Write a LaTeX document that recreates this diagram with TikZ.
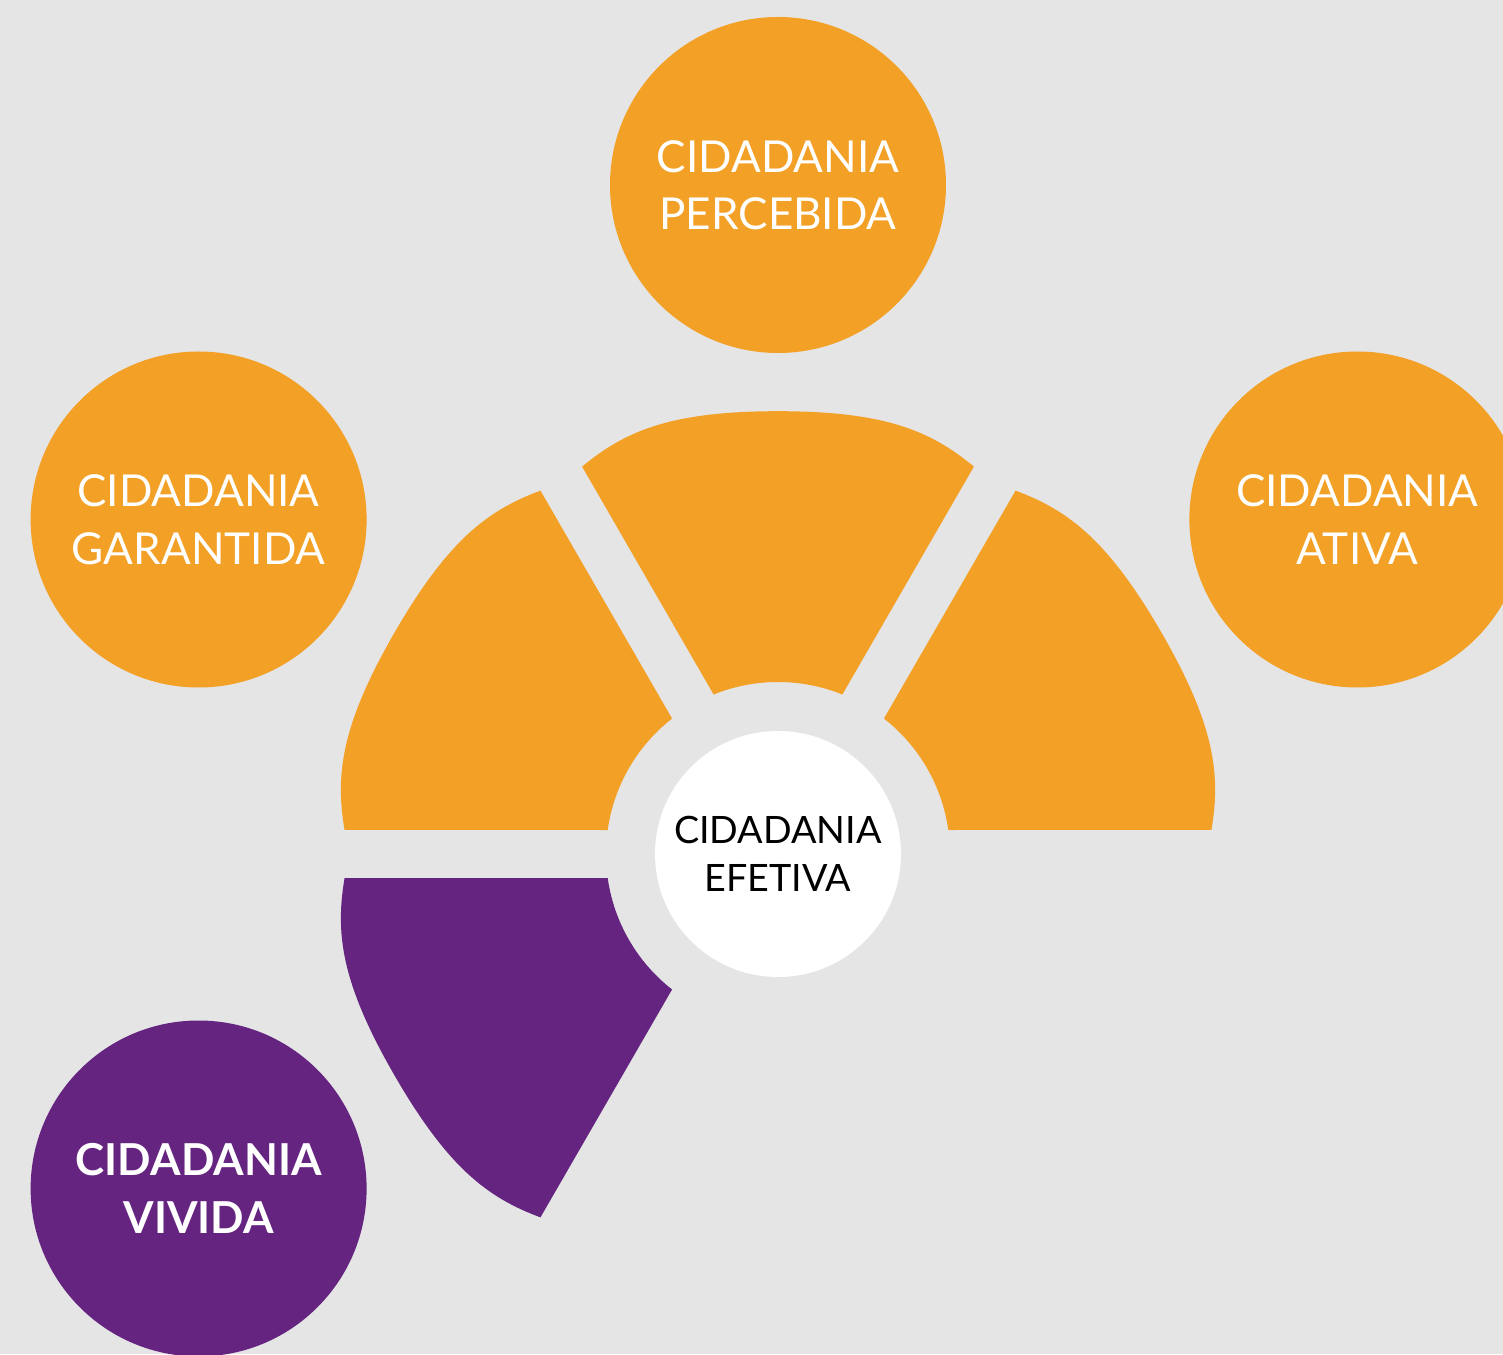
\documentclass[tikz,border=0pt]{standalone}
\usepackage{fontspec}
\setmainfont{Lato}
\usepackage{tikz}

\definecolor{bggray}{RGB}{229,229,229}
\definecolor{ciorange}{RGB}{243,160,38}
\definecolor{cipurple}{RGB}{100,36,128}

\tikzset{
  bubble/.style={circle, minimum size=336pt, inner sep=0pt, text=white, align=center,
    font=\fontsize{44}{57.5}\selectfont},
  hub/.style={circle, fill=white, minimum size=246pt, inner sep=0pt, align=center,
    font=\fontsize{37.7}{48}\selectfont}
}

% one petal of the ring, drawn with its axis at 90 degrees
\newcommand{\petal}[2]{%
\fill[#2, rotate=#1] (68.02:172) -- (195.9,387.4)
  .. controls (154.2,421.7) and (110,442.8) .. (0,442.8)
  .. controls (-110,442.8) and (-154.2,421.7) .. (-195.9,387.4)
  -- (111.98:172)
  arc[start angle=111.98, end angle=68.02, radius=172] -- cycle;}

\begin{document}
\begin{tikzpicture}[x=1pt, y=1pt]
\useasboundingbox (-778,-500) rectangle (725,854);
\fill[bggray] (-778,-500) rectangle (725,854);

\foreach \r in {0,60,-60} \petal{\r}{ciorange};
\petal{120}{cipurple}

\node[hub] (efetiva) at (0,0) {CIDADANIA\\EFETIVA};
\node[bubble, fill=ciorange] (percebida) at (90:669) {CIDADANIA\\PERCEBIDA};
\node[bubble, fill=ciorange] (garantida) at (150:669) {CIDADANIA\\GARANTIDA};
\node[bubble, fill=ciorange] (ativa) at (30:669) {CIDADANIA\\ATIVA};
\node[bubble, fill=cipurple, font=\fontsize{44}{57.5}\selectfont\bfseries] (vivida) at (210:669) {CIDADANIA\\VIVIDA};
\end{tikzpicture}
\end{document}
